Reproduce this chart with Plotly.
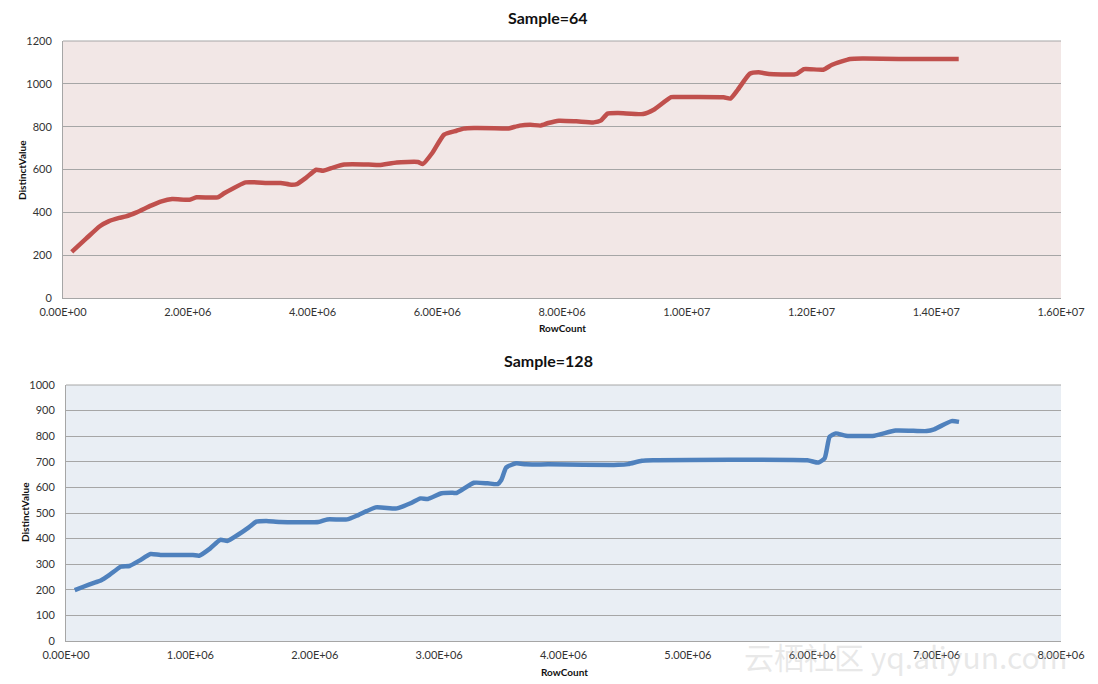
import plotly.graph_objects as go

# ---- data: Sample=64 ----
rows_64 = [0.14e6, 0.37e6, 0.59e6, 0.73e6, 0.90e6, 1.01e6, 1.18e6, 1.41e6, 1.58e6, 1.75e6,
           2.03e6, 2.14e6, 2.48e6, 2.59e6, 2.93e6, 3.27e6, 3.49e6, 3.66e6, 3.75e6, 3.89e6,
           4.06e6, 4.17e6, 4.34e6, 4.51e6, 4.90e6, 5.07e6, 5.35e6, 5.69e6, 5.77e6, 5.92e6,
           6.11e6, 6.31e6, 6.42e6, 6.59e6, 7.04e6, 7.13e6, 7.32e6, 7.49e6, 7.66e6, 7.78e6,
           7.95e6, 8.23e6, 8.51e6, 8.62e6, 8.73e6, 8.90e6, 9.30e6, 9.47e6, 9.75e6, 9.86e6,
           10.59e6, 10.70e6, 10.82e6, 11.01e6, 11.15e6, 11.32e6, 11.72e6, 11.77e6, 11.88e6,
           12.19e6, 12.33e6, 12.62e6, 12.84e6, 13.40e6, 14.36e6]
distinct_64 = [215, 277, 335, 358, 374, 381, 400, 431, 451, 462,
               459, 470, 470, 490, 540, 537, 537, 529, 532, 560,
               599, 594, 610, 623, 623, 621, 633, 635, 626, 677,
               763, 781, 791, 794, 792, 791, 805, 809, 805, 817,
               828, 825, 820, 828, 861, 864, 859, 879, 938, 938,
               937, 931, 973, 1047, 1054, 1046, 1044, 1047, 1069,
               1066, 1089, 1116, 1118, 1116, 1116]

# ---- data: Sample=128 ----
rows_128 = [0.07e6, 0.14e6, 0.23e6, 0.28e6, 0.35e6, 0.44e6, 0.51e6, 0.59e6, 0.68e6, 0.76e6,
            1.02e6, 1.07e6, 1.16e6, 1.24e6, 1.30e6, 1.38e6, 1.47e6, 1.53e6, 1.61e6, 1.72e6,
            2.03e6, 2.10e6, 2.26e6, 2.35e6, 2.49e6, 2.66e6, 2.77e6, 2.85e6, 2.91e6, 3.02e6,
            3.11e6, 3.14e6, 3.28e6, 3.39e6, 3.47e6, 3.50e6, 3.54e6, 3.62e6, 3.70e6, 3.88e6,
            4.44e6, 4.52e6, 4.63e6, 4.72e6, 5.96e6, 6.05e6, 6.10e6, 6.14e6, 6.19e6, 6.27e6,
            6.50e6, 6.67e6, 6.92e6, 6.98e6, 7.12e6, 7.18e6]
distinct_128 = [199, 212, 228, 236, 258, 290, 293, 314, 340, 336,
                336, 333, 362, 395, 391, 414, 444, 466, 469, 465,
                465, 475, 475, 492, 522, 518, 538, 557, 555, 577,
                579, 578, 618, 616, 613, 629, 678, 694, 690, 690,
                688, 691, 704, 706, 706, 697, 714, 798, 811, 802,
                802, 822, 820, 827, 859, 856]

# ---- tick labels ----
x64_tickvals = [0, 2e6, 4e6, 6e6, 8e6, 10e6, 12e6, 14e6, 16e6]
x64_ticktext = ["0.00E+00", "2.00E+06", "4.00E+06", "6.00E+06", "8.00E+06",
                "1.00E+07", "1.20E+07", "1.40E+07", "1.60E+07"]
x128_tickvals = [0, 1e6, 2e6, 3e6, 4e6, 5e6, 6e6, 7e6, 8e6]
x128_ticktext = ["0.00E+00", "1.00E+06", "2.00E+06", "3.00E+06", "4.00E+06",
                 "5.00E+06", "6.00E+06", "7.00E+06", "8.00E+06"]

FONT = "Lato, 'Open Sans', sans-serif"
GRID = "#a6a6a6"
TICKC = "#333333"

fig = go.Figure()
fig.add_trace(go.Scatter(x=rows_64, y=distinct_64, mode="lines",
                         line=dict(color="#c0504d", width=4.5, shape="spline", smoothing=0.5),
                         xaxis="x", yaxis="y", showlegend=False, hoverinfo="skip"))
fig.add_trace(go.Scatter(x=rows_128, y=distinct_128, mode="lines",
                         line=dict(color="#4f81bd", width=4.5, shape="spline", smoothing=0.5),
                         xaxis="x2", yaxis="y2", showlegend=False, hoverinfo="skip"))

# page has an 8px body margin, so the figure starts at (8, 8) in the window
OFF = 8
W, H = 1098 - OFF, 684 - OFF
def px(v): return (v - OFF) / W
def py(v): return 1 - (v - OFF) / H

axis_common = dict(showline=True, linecolor=GRID, linewidth=1, ticks="", automargin=False,
                   tickfont=dict(family=FONT, size=11, color=TICKC), zeroline=False)

def label(text, x, y, size, angle=0):
    return dict(text=text, x=px(x), y=py(y), xref="paper", yref="paper",
                xanchor="center", yanchor="middle", showarrow=False, textangle=angle,
                font=dict(family=FONT, size=size, color="#111111"))

fig.update_layout(
    template="none",
    width=W, height=H,
    margin=dict(l=0, r=0, t=0, b=0, pad=0),
    paper_bgcolor="white", plot_bgcolor="rgba(0,0,0,0)",
    font=dict(family=FONT),
    xaxis=dict(domain=[px(63), px(1061)], range=[0, 16e6], tickvals=x64_tickvals,
               ticktext=x64_ticktext, showgrid=False, anchor="y", ticklabelstandoff=4,
               **axis_common),
    yaxis=dict(domain=[py(298), py(41)], range=[0, 1200], dtick=200, showgrid=True,
               gridcolor=GRID, gridwidth=1, anchor="x", ticklabelstandoff=8, **axis_common),
    xaxis2=dict(domain=[px(66), px(1061)], range=[0, 8e6], tickvals=x128_tickvals,
                ticktext=x128_ticktext, showgrid=False, anchor="y2", ticklabelstandoff=4,
                **axis_common),
    yaxis2=dict(domain=[py(641), py(385)], range=[0, 1000], dtick=100, showgrid=True,
                gridcolor=GRID, gridwidth=1, anchor="x2", ticklabelstandoff=8, **axis_common),
    shapes=[
        dict(type="rect", xref="x domain", yref="y domain", x0=0, x1=1, y0=0, y1=1,
             fillcolor="#f2e7e6", line=dict(width=0), layer="below"),
        dict(type="rect", xref="x2 domain", yref="y2 domain", x0=0, x1=1, y0=0, y1=1,
             fillcolor="#e9eef4", line=dict(width=0), layer="below"),
        dict(type="line", xref="x domain", yref="y domain", x0=0, x1=1, y0=1, y1=1,
             line=dict(color=GRID, width=1), layer="below"),
        dict(type="line", xref="x2 domain", yref="y2 domain", x0=0, x1=1, y0=1, y1=1,
             line=dict(color=GRID, width=1), layer="below"),
    ],
    annotations=[
        label("<b>Sample=64</b>", 548, 18, 16),
        label("<b>Sample=128</b>", 548, 360, 16),
        label("<b>RowCount</b>", 562, 328, 10),
        label("<b>RowCount</b>", 564, 672, 10),
        label("<b>DistinctValue</b>", 22, 170, 10, -90),
        label("<b>DistinctValue</b>", 25, 512, 10, -90),
        dict(text="云栖社区 yq.aliyun.com", x=px(905), y=py(656), xref="paper", yref="paper",
             xanchor="center", yanchor="middle", showarrow=False,
             font=dict(family="'Noto Sans CJK SC', sans-serif", size=30,
                       color="rgba(190,190,190,0.35)")),
    ],
)

fig.write_html("out.html")
